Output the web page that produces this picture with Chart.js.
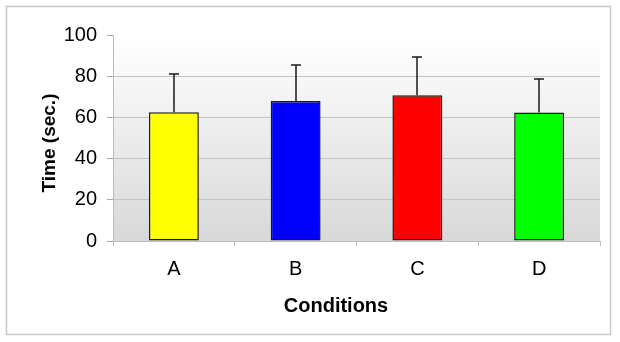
<!DOCTYPE html>
<html>
<head>
<meta charset="utf-8">
<script src="https://cdn.jsdelivr.net/npm/chart.js@4.4.1/dist/chart.umd.min.js"></script>
<style>
  html, body { margin: 0; padding: 0; background: #fff; }
  #wrap { width: 620px; height: 342px; position: relative; }
</style>
</head>
<body>
<div id="wrap"><canvas id="chart"></canvas></div>
<script>
// valeurs
const conditions = ['A', 'B', 'C', 'D'];
const temps = [62.5, 68, 70.8, 62.4];
const erreurs = [18.6, 17.2, 18.6, 16.1];
const couleurs = ['#ffff00', '#0000ff', '#ff0000', '#00ff00'];
const yTicks = [0, 20, 40, 60, 80, 100];

Chart.defaults.font.family = "'Liberation Sans', Arial, sans-serif";
Chart.defaults.color = '#000';

// fond dégradé + cadre extérieur
const fond = {
  id: 'fond',
  beforeDraw(chart) {
    const c = chart.ctx, a = chart.chartArea;
    c.save();
    c.fillStyle = '#fff';
    c.fillRect(0, 0, chart.width, chart.height);
    c.strokeStyle = '#c8c8c8';
    c.lineWidth = 1.5;
    c.strokeRect(6.5, 6.5, 604, 328);
    const g = c.createLinearGradient(0, a.top, 0, a.bottom);
    g.addColorStop(0, '#ffffff');
    g.addColorStop(1, '#d8d8d8');
    c.fillStyle = g;
    c.fillRect(a.left, a.top, a.right - a.left, a.bottom - a.top);
    c.restore();
  }
};

// barres d'erreur (vers le haut seulement)
const barresErreur = {
  id: 'barresErreur',
  afterDatasetsDraw(chart) {
    const c = chart.ctx;
    const y = chart.scales.y;
    const meta = chart.getDatasetMeta(0);
    c.save();
    c.strokeStyle = '#1a1a1a';
    c.lineWidth = 1.5;
    meta.data.forEach((bar, i) => {
      const x = Math.round(bar.x);
      const y0 = y.getPixelForValue(temps[i]);
      const y1 = Math.round(y.getPixelForValue(temps[i] + erreurs[i]));
      c.beginPath();
      c.moveTo(x, y0);
      c.lineTo(x, y1);
      c.moveTo(x - 5, y1);
      c.lineTo(x + 5, y1);
      c.stroke();
    });
    c.restore();
  }
};

// titres des axes
const titres = {
  id: 'titres',
  afterDraw(chart) {
    const c = chart.ctx;
    c.save();
    c.fillStyle = '#000';
    c.font = "bold 20px 'Liberation Sans', Arial, sans-serif";
    c.textAlign = 'center';
    c.textBaseline = 'alphabetic';
    c.fillText('Conditions', 336, 312);
    c.translate(54.5, 143);
    c.rotate(-Math.PI / 2);
    c.font = "bold 19px 'Liberation Sans', Arial, sans-serif";
    c.fillText('Time (sec.)', 0, 0);
    c.restore();
  }
};

const ctx = document.getElementById('chart');
const chart = new Chart(ctx, {
  type: 'bar',
  data: {
    labels: conditions,
    datasets: [{
      data: temps,
      backgroundColor: couleurs,
      borderColor: '#1a1a1a',
      borderWidth: 1.5,
      borderSkipped: false,
      categoryPercentage: 1,
      barPercentage: 0.41
    }]
  },
  options: {
    responsive: true,
    maintainAspectRatio: false,
    animation: false,
    layout: { padding: { left: 0, top: 35, right: 20, bottom: 0 } },
    plugins: { legend: { display: false }, tooltip: { enabled: false } },
    scales: {
      x: {
        afterFit(s) { s.height = 101; },
        grid: { offset: true, drawOnChartArea: false, tickLength: 5, color: '#bcbcbc' },
        border: { color: '#bcbcbc', width: 1 },
        ticks: { font: { size: 20 }, padding: 11, color: '#000' }
      },
      y: {
        min: 0,
        max: 100,
        afterFit(s) { s.width = 113; },
        afterBuildTicks(s) { s.ticks = yTicks.map(v => ({ value: v })); },
        grid: {
          color: c => (c.tick && c.tick.value === 100) ? 'rgba(0,0,0,0)' : '#c4c4c4',
          tickColor: '#a8a8a8',
          tickLength: 6
        },
        border: { color: '#bcbcbc', width: 1 },
        ticks: { font: { size: 20 }, padding: 10, color: '#000' }
      }
    }
  },
  plugins: [fond, barresErreur, titres]
});
</script>
</body>
</html>
